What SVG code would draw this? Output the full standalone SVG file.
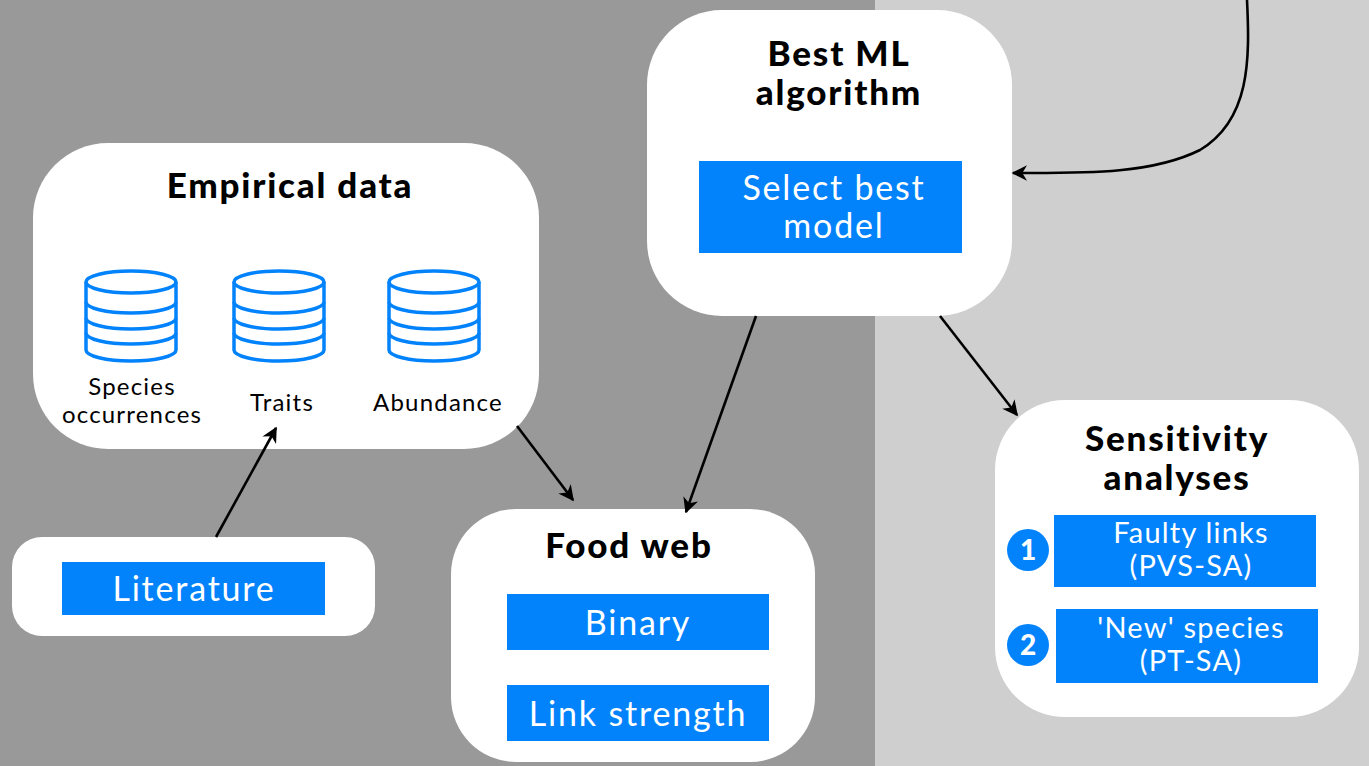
<svg xmlns="http://www.w3.org/2000/svg" width="1369" height="766" viewBox="0 0 1369 766">
<defs>
<style>
.box{fill:#fff}
.blue{fill:#0383fb}
.title{font-family:Lato,"Noto Sans",sans-serif;font-weight:900;font-size:35px;letter-spacing:1.8px;fill:#000;text-anchor:middle}
.btxt{font-family:Lato,"Noto Sans",sans-serif;font-weight:400;font-size:34px;letter-spacing:1.8px;fill:#fff;text-anchor:middle}
.stxt{font-family:Lato,"Noto Sans",sans-serif;font-weight:400;font-size:29px;letter-spacing:1.2px;fill:#fff;text-anchor:middle}
.lbl{font-family:Lato,"Noto Sans",sans-serif;font-size:24px;letter-spacing:1.2px;fill:#000;text-anchor:middle}
.db{fill:none;stroke:#0383fb;stroke-width:3.5}
.conn{fill:none;stroke:#000;stroke-width:2.6}
.num{font-family:Lato,"Noto Sans",sans-serif;font-weight:900;font-size:28px;fill:#fff;text-anchor:middle}
</style>
<marker id="ah" viewBox="0 0 10 10" refX="9" refY="5" markerWidth="6" markerHeight="6" markerUnits="strokeWidth" orient="auto">
<path d="M0,0 L10,5 L0,10 L3,5 z" fill="#000"/>
</marker>
<g id="dbicon">
<ellipse cx="0" cy="0" rx="45" ry="11" class="db"/>
<path class="db" d="M-45,0 V68 A45,11 0 0 0 45,68 V0"/>
<path class="db" d="M-45,20 A45,11 0 0 0 45,20"/>
<path class="db" d="M-45,36 A45,11 0 0 0 45,36"/>
<path class="db" d="M-45,51 A45,11 0 0 0 45,51"/>
</g>
</defs>
<rect x="0" y="0" width="875" height="766" fill="#999"/>
<rect x="875" y="0" width="494" height="766" fill="#cfcfcf"/>

<g id="empirical">
<rect class="box" x="33" y="143" width="506" height="306" rx="75"/>
<text class="title" x="290" y="198">Empirical data</text>
<use href="#dbicon" x="131" y="282"/>
<use href="#dbicon" x="279" y="282"/>
<use href="#dbicon" x="434" y="282"/>
<text class="lbl" x="132" y="395">Species</text>
<text class="lbl" x="132" y="423">occurrences</text>
<text class="lbl" x="282" y="411">Traits</text>
<text class="lbl" x="438" y="411">Abundance</text>
</g>

<g id="literature">
<rect class="box" x="12" y="537" width="363" height="99" rx="30"/>
<rect class="blue" x="62" y="562" width="263" height="53"/>
<text class="btxt" x="194" y="601">Literature</text>
</g>

<g id="bestml">
<rect class="box" x="647" y="10" width="365" height="306" rx="75"/>
<text class="title" x="839" y="66">Best ML</text>
<text class="title" x="839" y="105">algorithm</text>
<rect class="blue" x="699" y="161" width="263" height="92"/>
<text class="btxt" x="834" y="200">Select best</text>
<text class="btxt" x="834" y="238">model</text>
</g>

<g id="foodweb">
<rect class="box" x="451" y="509" width="364" height="253" rx="65"/>
<text class="title" x="629" y="558">Food web</text>
<rect class="blue" x="507" y="594" width="262" height="56"/>
<text class="btxt" x="638" y="635">Binary</text>
<rect class="blue" x="507" y="685" width="262" height="56"/>
<text class="btxt" x="638" y="726">Link strength</text>
</g>

<g id="sensitivity">
<rect class="box" x="995" y="400" width="364" height="317" rx="70"/>
<text class="title" x="1177" y="451">Sensitivity</text>
<text class="title" x="1177" y="490">analyses</text>
<rect class="blue" x="1054" y="515" width="262" height="72"/>
<text class="stxt" x="1191" y="543">Faulty links</text>
<text class="stxt" x="1191" y="576">(PVS-SA)</text>
<rect class="blue" x="1056" y="609" width="262" height="74"/>
<text class="stxt" x="1191" y="638">'New' species</text>
<text class="stxt" x="1191" y="671">(PT-SA)</text>
<circle cx="1028" cy="550" r="21" fill="#0383fb"/>
<text class="num" x="1028" y="560">1</text>
<circle cx="1028" cy="645" r="21" fill="#0383fb"/>
<text class="num" x="1028" y="655">2</text>
</g>

<g id="connectors">
<path class="conn" marker-end="url(#ah)" d="M216,537 L276,428"/>
<path class="conn" marker-end="url(#ah)" d="M517,426 L573,500"/>
<path class="conn" marker-end="url(#ah)" d="M756,316 L686,512"/>
<path class="conn" marker-end="url(#ah)" d="M940,316 L1017,415"/>
<path class="conn" marker-end="url(#ah)" d="M1247,0 C1250,60 1250,120 1200,150 C1150,175 1080,173 1013,173"/>
</g>
</svg>
